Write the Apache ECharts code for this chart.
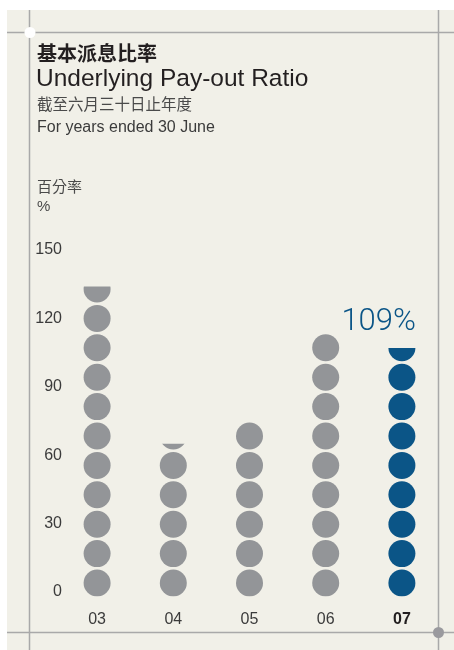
<!DOCTYPE html>
<html>
<head>
<meta charset="utf-8">
<script src="https://cdn.jsdelivr.net/npm/echarts@6/dist/echarts.min.js"></script>
<style>
  html, body { margin: 0; padding: 0; background: #ffffff; }
  #chart { width: 454px; height: 650px; }
</style>
</head>
<body>
<div id="chart"></div>
<script>
// Financial years (two-digit labels) and underlying pay-out ratio, %
const years = ['03', '04', '05', '06', '07'];
const payoutRatio = [136, 67, 77, 116, 109];
const yTickValues = [0, 30, 60, 90, 120, 150];

const yMin = 0;
const yMax = 150;
const yStep = 30;

// Layout of the plot area (px)
const gridTop = 254.5;
const gridBottom = 53.5;
const plotHeight = 650 - gridTop - gridBottom;
const pxPerUnit = plotHeight / (yMax - yMin);

// Dot geometry: fixed diameter and spacing, same for every column
const dotSize = 27;
const dotGap = 2.4;
const dotsInBounding = 11;
const boundingValue = (dotsInBounding * (dotSize + dotGap) - dotGap) / pxPerUnit;

const grey = '#939598';
const blue = '#0b5587';
const latest = years.length - 1;

const cjk = '"Noto Sans CJK TC", "Noto Sans CJK SC", sans-serif';
const latin = '"Liberation Sans", Arial, sans-serif';
const lineColor = '#a9a9a9';

const chart = echarts.init(document.getElementById('chart'), null, { renderer: 'canvas' });

chart.setOption({
  animation: false,
  backgroundColor: '#ffffff',
  grid: { left: 59, right: 14, top: gridTop, bottom: gridBottom },
  xAxis: {
    type: 'category',
    data: years,
    axisLine: { show: false },
    axisTick: { show: false },
    axisLabel: {
      margin: 15,
      fontFamily: latin,
      fontSize: 16,
      color: '#3b3b3b',
      formatter: function (v) {
        return v === years[latest] ? '{b|' + v + '}' : v;
      },
      rich: { b: { fontFamily: latin, fontSize: 16, fontWeight: 'bold', color: '#231f20' } }
    }
  },
  yAxis: {
    type: 'value',
    min: yMin,
    max: yMax,
    interval: yStep,
    axisLine: { show: false },
    axisTick: { show: false },
    splitLine: { show: false },
    axisLabel: {
      margin: -3,
      align: 'right',
      verticalAlign: 'bottom',
      lineHeight: 16,
      padding: [0, 0, -3.5, 0],
      fontFamily: latin,
      fontSize: 16,
      color: '#3b3b3b',
      formatter: function (v) {
        return yTickValues.indexOf(v) >= 0 ? String(v) : '';
      }
    }
  },
  series: [{
    type: 'pictorialBar',
    symbol: 'circle',
    symbolSize: [dotSize, dotSize],
    symbolRepeat: true,
    symbolClip: true,
    symbolMargin: 1.5,
    symbolBoundingData: boundingValue,
    z: 10,
    data: payoutRatio.map(function (v, i) {
      const item = { value: v, itemStyle: { color: i === latest ? blue : grey } };
      if (i === latest) {
        item.label = {
          show: true,
          position: 'top',
          align: 'right',
          offset: [14, 8],
          formatter: '{c}%',
          fontFamily: '"Roboto", ' + latin,
          fontWeight: 300,
          fontSize: 31,
          color: blue
        };
      }
      return item;
    })
  }],
  graphic: [
    { type: 'rect', z: -10, shape: { x: 7, y: 10, width: 447, height: 640 }, style: { fill: '#f1f0e8' } },
    { type: 'line', shape: { x1: 7, y1: 32.5, x2: 454, y2: 32.5 }, style: { stroke: lineColor, lineWidth: 1.5 } },
    { type: 'line', shape: { x1: 7, y1: 632.5, x2: 454, y2: 632.5 }, style: { stroke: lineColor, lineWidth: 1.5 } },
    { type: 'line', shape: { x1: 29.5, y1: 10, x2: 29.5, y2: 650 }, style: { stroke: lineColor, lineWidth: 1.5 } },
    { type: 'line', shape: { x1: 438.5, y1: 10, x2: 438.5, y2: 650 }, style: { stroke: lineColor, lineWidth: 1.5 } },
    { type: 'circle', shape: { cx: 30, cy: 32.5, r: 5.5 }, style: { fill: '#ffffff' } },
    { type: 'circle', shape: { cx: 438.5, cy: 632.5, r: 5.5 }, style: { fill: '#9a9a9e' } },
    { type: 'text', left: 37, top: 43, style: { text: '基本派息比率', font: 'bold 20px ' + cjk, fill: '#231f20' } },
    { type: 'text', left: 36, top: 67, style: { text: 'Underlying Pay-out Ratio', font: '24.5px ' + latin, fill: '#231f20' } },
    { type: 'text', left: 37, top: 96, style: { text: '截至六月三十日止年度', font: '15.5px ' + cjk, fill: '#4a4a4a' } },
    { type: 'text', left: 37, top: 120, style: { text: 'For years ended 30 June', font: '16px ' + latin, fill: '#3b3b3b' } },
    { type: 'text', left: 37, top: 179, style: { text: '百分率', font: '15px ' + cjk, fill: '#4a4a4a' } },
    { type: 'text', left: 37, top: 199, style: { text: '%', font: '15px ' + latin, fill: '#4a4a4a' } }
  ]
});
</script>
</body>
</html>
